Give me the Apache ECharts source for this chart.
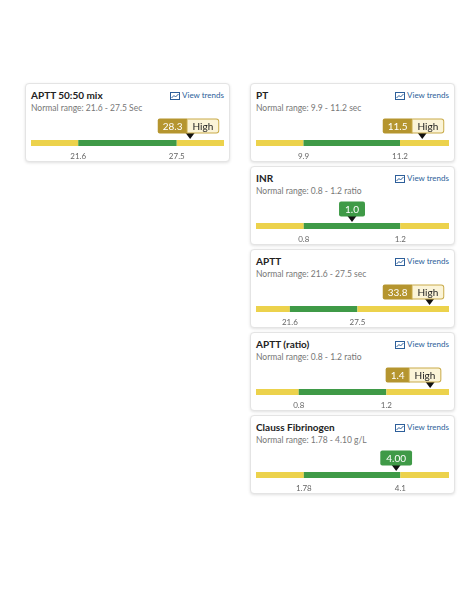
<!DOCTYPE html>
<html><head><meta charset="utf-8">
<script src="https://cdn.jsdelivr.net/npm/echarts@6/dist/echarts.min.js"></script>
<style>
body{margin:0;width:474px;height:592px;background:#fff;font-family:Lato,"Open Sans",sans-serif;position:relative;overflow:hidden}
.card{position:absolute;width:203px;height:77px;border:1px solid #e4e4e4;border-radius:4px;box-shadow:0 1px 3px rgba(0,0,0,0.12);background:#fff}
.t{position:absolute;left:5px;top:5px;font-size:10px;font-weight:700;color:#222}
.r{position:absolute;left:5px;top:19px;font-size:8.5px;color:#777}
.v{position:absolute;right:5px;top:6px;font-size:8px;color:#2d5f9a}
.v svg{vertical-align:-2px;margin-right:2px}
.c{position:absolute;left:0;top:30px;width:203px;height:47px}
</style></head><body>
<script>
const titles=["APTT 50:50 mix","PT","INR","APTT","APTT (ratio)","Clauss Fibrinogen"];
const ranges=["Normal range: 21.6 - 27.5 Sec","Normal range: 9.9 - 11.2 sec","Normal range: 0.8 - 1.2 ratio","Normal range: 21.6 - 27.5 sec","Normal range: 0.8 - 1.2 ratio","Normal range: 1.78 - 4.10 g/L"];
const lows=[21.6,9.9,0.8,21.6,0.8,1.78];
const highs=[27.5,11.2,1.2,27.5,1.2,4.1];
const values=[28.3,11.5,1.0,33.8,1.4,4.00];
const valueText=["28.3","11.5","1.0","33.8","1.4","4.00"];
const flags=["High","High","","High","High",""];
const axisMin=[18.77,9.26,0.602,18.64,0.605,0.63];
const axisMax=[30.33,11.86,1.402,35.5,1.486,5.27];
const pos=[[25,83],[250,83],[250,166],[250,249],[250,332],[250,415]];
const icon='<svg width="10" height="8" viewBox="0 0 10 8"><rect x="0.5" y="0.5" width="9" height="7" fill="none" stroke="#2d5f9a" stroke-width="1"/><polyline points="1.5,6 4,3.5 5.5,5 8.5,2" fill="none" stroke="#2d5f9a" stroke-width="1"/></svg>';
titles.forEach((t,i)=>{
  const d=document.createElement('div');d.className='card';
  d.style.left=pos[i][0]+'px';d.style.top=pos[i][1]+'px';
  d.innerHTML='<div class="t">'+t+'</div><div class="r">'+ranges[i]+'</div><div class="v">'+icon+'View trends</div><div class="c"></div>';
  document.body.appendChild(d);
  const ch=echarts.init(d.querySelector('.c'));
  const lab=flags[i]?'{v|'+valueText[i]+'}{h|'+flags[i]+'}':'{g|'+valueText[i]+'}';
  const opt={
    animation:false,
    grid:{left:5,right:5,top:26,height:6},
    xAxis:{type:'value',min:axisMin[i],max:axisMax[i],splitLine:{show:false},axisLine:{show:false},axisTick:{show:false},
      axisLabel:{customValues:[lows[i],highs[i]],fontSize:8,color:'#666',margin:6,fontFamily:'Lato'}},
    yAxis:{type:'category',data:['r'],show:false},
    series:[
      {type:'bar',stack:'a',data:[lows[i]],barWidth:6,itemStyle:{color:'#ecd24c'}},
      {type:'bar',stack:'a',data:[highs[i]-lows[i]],barWidth:6,itemStyle:{color:'#3f9a47'}},
      {type:'bar',stack:'a',data:[axisMax[i]-highs[i]],barWidth:6,itemStyle:{color:'#ecd24c'}},
      {type:'scatter',data:[[values[i],'r']],symbol:'triangle',symbolRotate:180,symbolSize:[9,6],symbolOffset:[0,-7],itemStyle:{color:'#111',opacity:1},z:5},
      {type:'scatter',data:[[values[i],'r']],symbolSize:1,symbolOffset:[0,-17],itemStyle:{color:'rgba(0,0,0,0)',opacity:1},z:6,
        label:{show:true,position:'inside',opacity:1,offset:[0,0],formatter:lab,rich:{
          v:{backgroundColor:'#b5952f',color:'#fff',fontSize:10,padding:[3,5,2,5],fontFamily:'Lato',borderRadius:[2,0,0,2]},
          h:{backgroundColor:'#fbf4d8',borderColor:'#c9ab4a',borderWidth:1,color:'#222',fontSize:10,padding:[2,5,1,5],fontFamily:'Lato',borderRadius:[0,2,2,0]},
          g:{backgroundColor:'#3f9a47',color:'#fff',fontSize:10,padding:[3,6,2,6],fontFamily:'Lato',borderRadius:2}}}}
    ]
  };
  ch.setOption(opt);
  const px=ch.convertToPixel({xAxisIndex:0},values[i]);
  const w=flags[i]?56:28;
  const shift=Math.min(0,190-(px+w/2));
  ch.setOption({series:[{},{},{},{},{label:{offset:[shift,0]}}]});
});
</script>
</body></html>
